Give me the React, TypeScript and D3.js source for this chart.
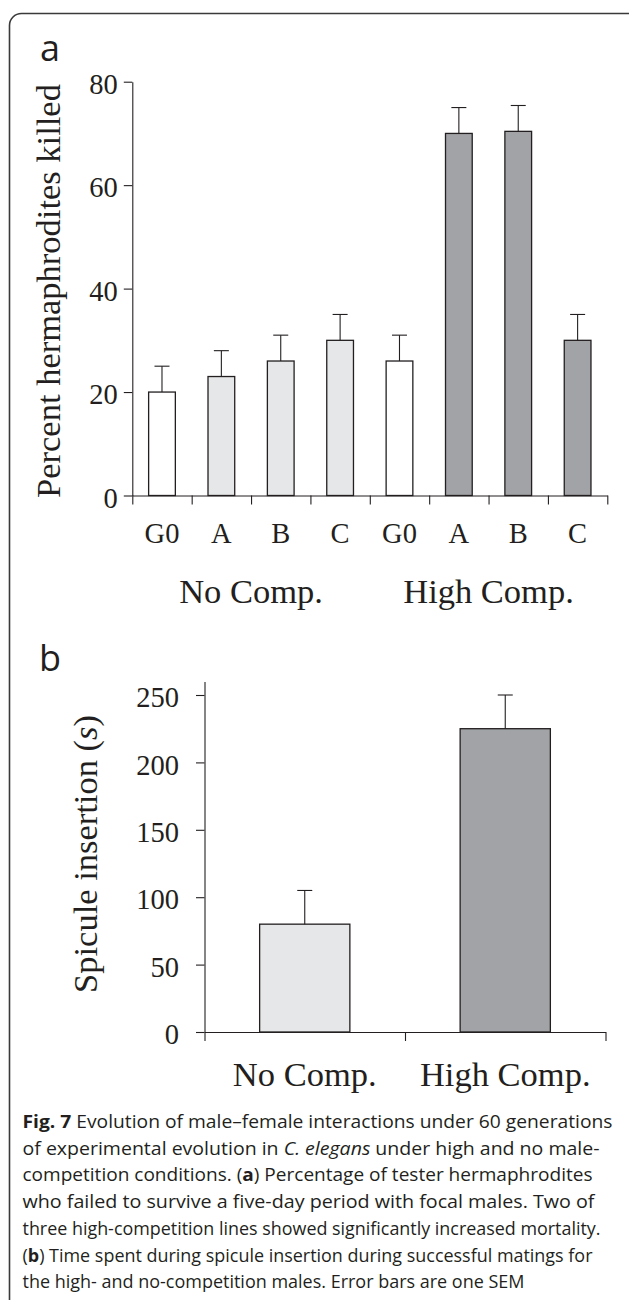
import React, { useEffect, useRef } from 'react';
import * as d3 from 'd3';

// Panel a: percent of hermaphrodites killed
const killedLabels = ['G0', 'A', 'B', 'C', 'G0', 'A', 'B', 'C'];
const killedKinds = ['ancestor', 'noComp', 'noComp', 'noComp', 'ancestor', 'highComp', 'highComp', 'highComp'];
const killedValues = [20, 23, 26, 30, 26, 70, 70.4, 30];
const killedErrors = [5, 5, 5, 5, 5, 5, 5, 5];
const killedGroups = ['No Comp.', 'High Comp.'];
const killedTicks = [0, 20, 40, 60, 80];

// Panel b: spicule insertion time
const spiculeCategories = ['No Comp.', 'High Comp.'];
const spiculeKinds = ['noComp', 'highComp'];
const spiculeValues = [80, 225];
const spiculeErrors = [25, 25];
const spiculeTicks = [0, 50, 100, 150, 200, 250];

const captionLines: { t: string; s?: 'b' | 'i' }[][] = [
  [{ t: 'Fig. 7', s: 'b' }, { t: ' Evolution of male\u2013female interactions under 60 generations' }],
  [{ t: 'of experimental evolution in ' }, { t: 'C. elegans', s: 'i' }, { t: ' under high and no male-' }],
  [{ t: 'competition conditions. (' }, { t: 'a', s: 'b' }, { t: ') Percentage of tester hermaphrodites' }],
  [{ t: 'who failed to survive a five-day period with focal males. Two of' }],
  [{ t: 'three high-competition lines showed significantly increased mortality.' }],
  [{ t: '(' }, { t: 'b', s: 'b' }, { t: ') Time spent during spicule insertion during successful matings for' }],
  [{ t: 'the high- and no-competition males. Error bars are one SEM' }],
];
const captionWidths = [590, 577, 570, 572, 578, 570, 502];

const INK = '#231f20';
const SERIF = '"Liberation Serif", "Times New Roman", serif';
const SANS = '"Open Sans", "Noto Sans", sans-serif';

const fillFor = d3.scaleOrdinal<string, string>()
  .domain(['ancestor', 'noComp', 'highComp'])
  .range(['#ffffff', '#e6e7e8', '#a2a3a6']);

export default function App() {
  const svgRef = useRef<SVGSVGElement>(null);

  useEffect(() => {
    if (!svgRef.current) return;
    const svg = d3.select(svgRef.current);
    svg.selectAll('*').remove();

    // outer frame (cut off at right and bottom)
    svg.append('rect')
      .attr('x', 9.5).attr('y', 13.5)
      .attr('width', 640).attr('height', 1300)
      .attr('rx', 12)
      .attr('fill', 'none')
      .attr('stroke', '#3a3a3a')
      .attr('stroke-width', 1.6);

    const panelLetter = (txt: string, x: number, y: number) =>
      svg.append('text')
        .attr('x', x).attr('y', y)
        .attr('font-family', SANS)
        .attr('font-size', 36)
        .attr('fill', INK)
        .text(txt);

    const drawBarPanel = (opts: {
      kinds: string[];
      values: number[];
      errors: number[];
      ticks: number[];
      yMax: number;
      x0: number; x1: number;
      yBottom: number; yTopAt: number; // pixel of yMax
      tickPad: number;
      yLabel: (t: d3.Selection<SVGTextElement, unknown, null, undefined>) => void;
      yLabelPos: [number, number];
    }) => {
      const n = opts.values.length;
      const x = d3.scaleBand<number>()
        .domain(d3.range(n))
        .range([opts.x0, opts.x1])
        .paddingInner(0.55)
        .paddingOuter(0.275);
      const xEdges = d3.scaleLinear().domain([0, n]).range([opts.x0, opts.x1]);
      const y = d3.scaleLinear().domain([0, opts.yMax]).range([opts.yBottom, opts.yTopAt]);

      const g = svg.append('g');

      // bars
      g.selectAll('rect.bar')
        .data(opts.values)
        .enter().append('rect')
        .attr('class', 'bar')
        .attr('x', (_, i) => x(i)!)
        .attr('y', d => y(d))
        .attr('width', x.bandwidth())
        .attr('height', d => y(0) - y(d))
        .attr('fill', (_, i) => fillFor(opts.kinds[i]))
        .attr('stroke', INK)
        .attr('stroke-width', 1.3);

      // error bars (upper only)
      const capW = 15;
      const err = g.selectAll('g.err')
        .data(opts.values)
        .enter().append('g')
        .attr('class', 'err')
        .attr('stroke', INK)
        .attr('stroke-width', 1.1);
      err.append('line')
        .attr('x1', (_, i) => x(i)! + x.bandwidth() / 2)
        .attr('x2', (_, i) => x(i)! + x.bandwidth() / 2)
        .attr('y1', d => y(d))
        .attr('y2', (d, i) => y(d + opts.errors[i]));
      err.append('line')
        .attr('x1', (_, i) => x(i)! + x.bandwidth() / 2 - capW / 2)
        .attr('x2', (_, i) => x(i)! + x.bandwidth() / 2 + capW / 2)
        .attr('y1', (d, i) => y(d + opts.errors[i]))
        .attr('y2', (d, i) => y(d + opts.errors[i]));

      // y axis
      const yAxis = g.append('g')
        .attr('transform', `translate(${opts.x0},0)`)
        .call(d3.axisLeft(y).tickValues(opts.ticks).tickSize(8.5).tickSizeOuter(0).tickPadding(opts.tickPad));
      yAxis.attr('font-family', SERIF).attr('font-size', 28.5);
      yAxis.selectAll('path, line').attr('stroke', INK).attr('stroke-width', 1.1);
      yAxis.selectAll('text').attr('fill', INK).attr('dy', '0.41em');

      // x axis: ticks at band edges
      const xAxis = g.append('g')
        .attr('transform', `translate(0,${opts.yBottom})`)
        .call(d3.axisBottom(xEdges).tickValues(d3.range(n + 1)).tickSize(9).tickSizeOuter(0).tickFormat(() => ''));
      xAxis.selectAll('path, line').attr('stroke', INK).attr('stroke-width', 1.1);

      // y label
      const yl = g.append('text')
        .attr('transform', `translate(${opts.yLabelPos[0]},${opts.yLabelPos[1]}) rotate(-90)`)
        .attr('text-anchor', 'middle')
        .attr('font-family', SERIF)
        .attr('font-size', 34.5)
        .attr('fill', INK);
      opts.yLabel(yl);

      return { x, y, g };
    };

    // ---- Panel a
    panelLetter('a', 40, 61);
    const a = drawBarPanel({
      kinds: killedKinds,
      values: killedValues,
      errors: killedErrors,
      ticks: killedTicks,
      yMax: 80,
      x0: 132.3, x1: 607.3,
      yBottom: 495.5, yTopAt: 81.7,
      tickPad: 6,
      yLabel: t => t.text('Percent hermaphrodites killed'),
      yLabelPos: [60, 291],
    });
    a.g.selectAll('text.cat')
      .data(killedLabels)
      .enter().append('text')
      .attr('class', 'cat')
      .attr('x', (_, i) => a.x(i)! + a.x.bandwidth() / 2)
      .attr('y', 543.3)
      .attr('text-anchor', 'middle')
      .attr('font-family', SERIF)
      .attr('font-size', 28.5)
      .attr('fill', INK)
      .text(d => d);
    const perGroup = killedLabels.length / killedGroups.length;
    a.g.selectAll('text.grp')
      .data(killedGroups)
      .enter().append('text')
      .attr('class', 'grp')
      .attr('x', (_, gi) => {
        const first = a.x(gi * perGroup)!;
        const last = a.x(gi * perGroup + perGroup - 1)! + a.x.bandwidth();
        return (first + last) / 2;
      })
      .attr('y', 603.3)
      .attr('text-anchor', 'middle')
      .attr('font-family', SERIF)
      .attr('font-size', 34.5)
      .attr('fill', INK)
      .text(d => d);

    // ---- Panel b
    panelLetter('b', 39, 670.7);
    const yMaxB = 260;
    const pxPerUnitB = (1032 - 695) / 250;
    const b = drawBarPanel({
      kinds: spiculeKinds,
      values: spiculeValues,
      errors: spiculeErrors,
      ticks: spiculeTicks,
      yMax: yMaxB,
      x0: 204.5, x1: 605.5,
      yBottom: 1032, yTopAt: 1032 - yMaxB * pxPerUnitB,
      tickPad: 17,
      yLabel: t => {
        t.append('tspan').text('Spicule insertion (');
        t.append('tspan').attr('font-style', 'italic').text('s');
        t.append('tspan').text(')');
      },
      yLabelPos: [97, 854],
    });
    b.g.selectAll('text.cat')
      .data(spiculeCategories)
      .enter().append('text')
      .attr('class', 'cat')
      .attr('x', (_, i) => b.x(i)! + b.x.bandwidth() / 2)
      .attr('y', 1086)
      .attr('text-anchor', 'middle')
      .attr('font-family', SERIF)
      .attr('font-size', 34.5)
      .attr('fill', INK)
      .text(d => d);

    // ---- Caption
    const cap = svg.append('g')
      .attr('font-family', SANS)
      .attr('font-size', 18.5)
      .attr('fill', INK);
    captionLines.forEach((parts, li) => {
      const t = cap.append('text')
        .attr('x', 22.5)
        .attr('y', 1128 + li * 26.7)
        .attr('textLength', captionWidths[li])
        .attr('lengthAdjust', 'spacingAndGlyphs');
      parts.forEach(p => {
        const ts = t.append('tspan').text(p.t);
        if (p.s === 'b') ts.attr('font-weight', 'bold');
        if (p.s === 'i') ts.attr('font-style', 'italic');
      });
    });
  }, []);

  return (
    <svg
      ref={svgRef}
      width={629}
      height={1300}
      style={{ position: 'absolute', left: 0, top: 0, background: '#fff' }}
    />
  );
}
